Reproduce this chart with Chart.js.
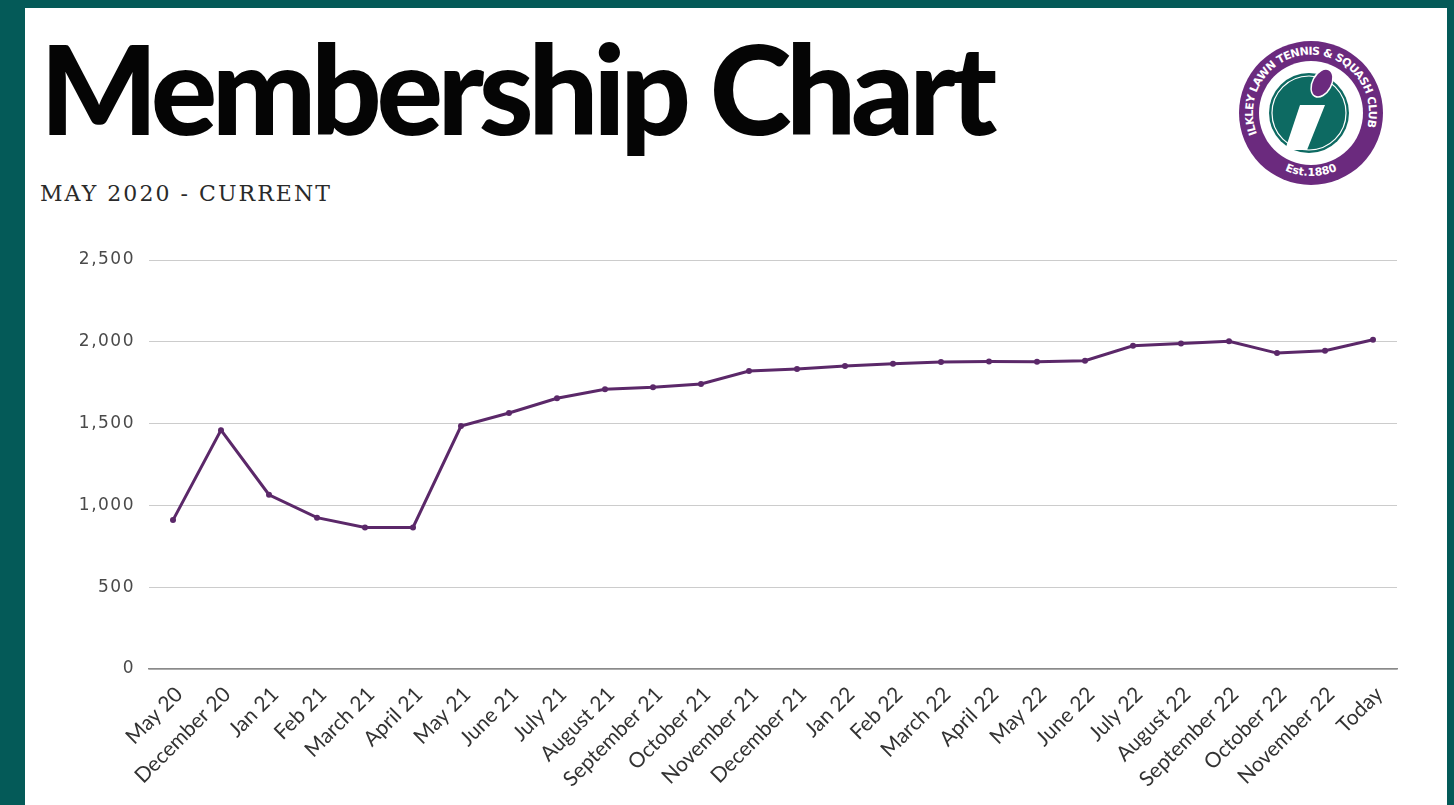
<!DOCTYPE html>
<html>
<head>
<meta charset="utf-8">
<script src="https://cdn.jsdelivr.net/npm/chart.js@4.4.1/dist/chart.umd.min.js"></script>
<style>
  html, body { margin: 0; padding: 0; }
  body { width: 1454px; height: 805px; background: #045a58; position: relative; overflow: hidden; }
  #panel { position: absolute; left: 25px; top: 8px; width: 1422px; height: 797px; background: #ffffff; }
  #title { position: absolute; left: 40px; top: 12px; margin: 0; font-family: Lato, "Open Sans", sans-serif; font-weight: 900; font-size: 124px; line-height: 150px; color: #050505; white-space: nowrap; }
  #subtitle { position: absolute; left: 40px; top: 180px; margin: 0; font-family: "DejaVu Serif", serif; font-size: 22px; line-height: 28px; color: #2a2a2a; white-space: nowrap; }
  #logo { position: absolute; left: 1235px; top: 38px; width: 152px; height: 152px; }
  #wrap { position: absolute; left: 0; top: 0; width: 1454px; height: 805px; }
</style>
</head>
<body>
<div id="panel"></div>
<h1 id="title">Membership Chart</h1>
<div id="subtitle">MAY 2020 - CURRENT</div>
<svg id="logo" viewBox="0 0 152 152" xmlns="http://www.w3.org/2000/svg">
  <defs>
    <path id="arcTop" d="M 22 96 A 58 58 0 1 1 131 93"/>
    <path id="arcBot" d="M 35.5 123.3 A 63 63 0 0 0 116.5 123.3"/>
  </defs>
  <circle cx="76" cy="75" r="72" fill="#6b2a7e"/>
  <circle cx="76" cy="75" r="52" fill="#ffffff"/>
  <circle cx="74" cy="75" r="40" fill="#0d6a62"/>
  <circle cx="74" cy="75" r="37" fill="none" stroke="#ffffff" stroke-width="1.2"/>
  <polygon points="65,67 90,67 72,112 50,112" fill="#ffffff"/>
  <ellipse cx="87" cy="45" rx="9.5" ry="15" transform="rotate(28 87 45)" fill="#6b2a7e" stroke="#ffffff" stroke-width="1.5"/>
  <text font-family="'DejaVu Sans', sans-serif" font-size="11" font-weight="bold" fill="#ffffff">
    <textPath href="#arcTop" textLength="218" lengthAdjust="spacing">ILKLEY LAWN TENNIS &amp; SQUASH CLUB</textPath>
  </text>
  <text font-family="'DejaVu Sans', sans-serif" font-size="11" font-weight="bold" fill="#ffffff">
    <textPath href="#arcBot" startOffset="50%" text-anchor="middle">Est.1880</textPath>
  </text>
</svg>
<div id="wrap"><canvas id="c" width="1454" height="805"></canvas></div>
<script>
// ---- data ----
const categories = ["May 20","December 20","Jan 21","Feb 21","March 21","April 21","May 21","June 21","July 21","August 21","September 21","October 21","November 21","December 21","Jan 22","Feb 22","March 22","April 22","May 22","June 22","July 22","August 22","September 22","October 22","November 22","Today"];
const members = [910,1460,1065,925,865,865,1485,1565,1655,1710,1722,1742,1821,1834,1852,1866,1876,1880,1878,1884,1976,1990,2003,1931,1945,2013];
const yTicks = [0,500,1000,1500,2000,2500];

// fit title and subtitle widths with letter spacing
function fitWidth(el, target) {
  el.style.letterSpacing = '0px';
  const w = el.getBoundingClientRect().width;
  const n = el.textContent.length;
  el.style.letterSpacing = ((target - w) / n) + 'px';
}
fitWidth(document.getElementById('title'), 952);
fitWidth(document.getElementById('subtitle'), 292);

const labelTweaks = {
  id: 'labelTweaks',
  afterLayout(chart) {
    const ys = chart.scales.y;
    if (!ys._wrapped) {
      const orig = ys.drawLabels.bind(ys);
      ys.drawLabels = function(area) {
        const ctx = chart.ctx;
        ctx.letterSpacing = '1.5px';
        orig(area);
        ctx.letterSpacing = '0px';
      };
      ys._wrapped = true;
    }
    const xs = chart.scales.x;
    if (!xs._wrapped) {
      const origX = xs.drawLabels.bind(xs);
      xs.drawLabels = function(area) {
        const ctx = chart.ctx;
        ctx.save();
        ctx.translate(6, 3);
        origX(area);
        ctx.restore();
      };
      xs._wrapped = true;
    }
  }
};

new Chart(document.getElementById('c'), {
  type: 'line',
  data: {
    labels: categories,
    datasets: [{
      label: 'Members',
      data: members,
      borderColor: '#5b2869',
      backgroundColor: '#5b2869',
      borderWidth: 3,
      pointRadius: 3,
      pointBackgroundColor: '#5b2869',
      pointBorderWidth: 0,
      tension: 0,
      fill: false
    }]
  },
  options: {
    responsive: false,
    animation: false,
    events: [],
    layout: { padding: { top: 260, left: 25, right: 57, bottom: 0 } },
    plugins: { legend: { display: false }, tooltip: { enabled: false } },
    scales: {
      x: {
        offset: true,
        grid: { display: false, drawTicks: false },
        border: { display: true, color: '#8a8a8a', width: 1.5 },
        ticks: {
          autoSkip: false,
          minRotation: 45,
          maxRotation: 45,
          padding: 10,
          color: '#333333',
          font: { family: 'Lato', size: 21 }
        },
        afterFit(scale) { scale.height = 136; }
      },
      y: {
        min: 0,
        max: 2500,
        afterBuildTicks(scale) { scale.ticks = yTicks.map(v => ({ value: v })); },
        grid: { color: '#cccccc', lineWidth: 1, drawTicks: false },
        border: { display: false },
        ticks: {
          padding: 14,
          color: '#4a4a4a',
          font: { family: 'DejaVu Sans', size: 17 },
          callback: (v) => v.toLocaleString('en-US')
        },
        afterFit(scale) { scale.width = 124; }
      }
    }
  },
  plugins: [labelTweaks]
});
</script>
</body>
</html>
